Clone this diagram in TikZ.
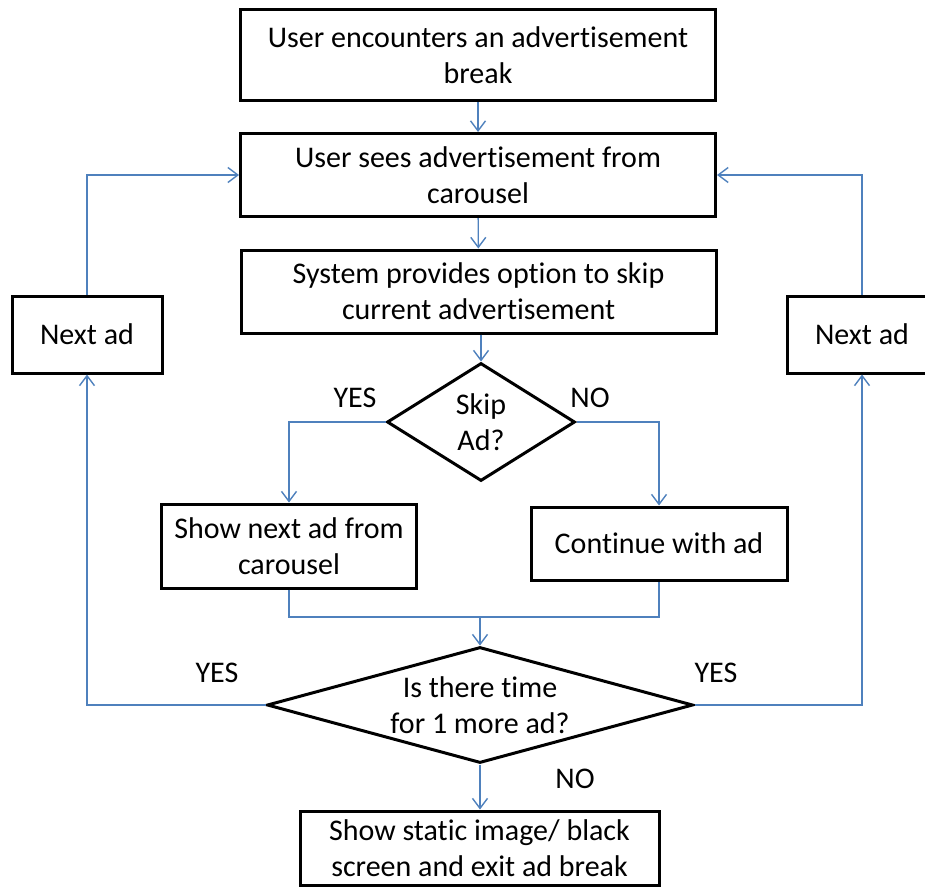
\documentclass[tikz,border=0pt]{standalone}
\usepackage{fontspec}
\setmainfont{Carlito}[Ligatures={NoCommon}]
\usetikzlibrary{shapes.geometric,arrows.meta}
\definecolor{flowblue}{HTML}{4F81BD}
\tikzset{
  box/.style={draw=black, line width=3pt, rectangle, align=center, inner sep=0pt},
  dia/.style={draw=black, line width=3pt, diamond, inner sep=0pt},
  lbl/.style={inner sep=0pt},
  flow/.style={draw=flowblue, line width=1.4pt, -{Straight Barb[length=10pt,width=15pt,line width=1.4pt]}},
  plain/.style={draw=flowblue, line width=1.4pt},
}
\begin{document}
\begin{tikzpicture}[x=1pt,y=-1pt,font=\fontsize{30}{36}\selectfont]
\useasboundingbox (0,0) rectangle (925,886);
\node[box, minimum width=475, minimum height=91] (b1) at (478,55) {User encounters an advertisement\\break};
\node[box, minimum width=475, minimum height=83] (b2) at (478,175) {User sees advertisement from\\carousel};
\node[box, minimum width=475, minimum height=83] (b3) at (478.5,291.5) {System provides option to skip\\current advertisement};
\node[dia, minimum width=188, minimum height=118, label={[align=center, lbl]center:Skip\\Ad?}] (skip) at (481,422) {};
\node[box, minimum width=255, minimum height=84] (show) at (289,546) {Show next ad from\\carousel};
\node[box, minimum width=256, minimum height=73] (cont) at (659,543.5) {Continue with ad};
\node[dia, minimum width=426, minimum height=116, label={[align=center, lbl]center:Is there time\\for 1 more ad?}] (time) at (480,705) {};
\node[box, minimum width=359, minimum height=74] (end) at (479.5,848) {Show static image/ black\\screen and exit ad break};
\node[box, minimum width=150, minimum height=77] (nextL) at (87,334.5) {Next ad};
\node[box, minimum width=150, minimum height=77] (nextR) at (862,334.5) {Next ad};
\coordinate (merge) at (480,617);
\node[lbl] (yes1) at (355,398) {YES};
\node[lbl] (no1) at (590,398) {NO};
\node[lbl] (yes2) at (217,673) {YES};
\node[lbl] (yes3) at (716,673) {YES};
\node[lbl] (no2) at (575,779) {NO};
\path[flow] (b1) -- (b2);
\path[flow] (b2) -- (b3);
\path[flow] (b3.south -| skip) -- (skip.north);
\path[flow] (skip.west) -| (show.north);
\path[flow] (skip.east) -| (cont.north);
\path[plain] (show.south) |- (merge) -| (cont.south);
\path[flow] (merge) -- (time.north);
\path[flow] (time.south) -- (end.north -| time.south);
\path[flow] (time.west) -| (nextL.south);
\path[flow] (time.east) -| (nextR.south);
\path[flow] (nextL.north) |- (b2.west);
\path[flow] (nextR.north) |- (b2.east);
\end{tikzpicture}
\end{document}
